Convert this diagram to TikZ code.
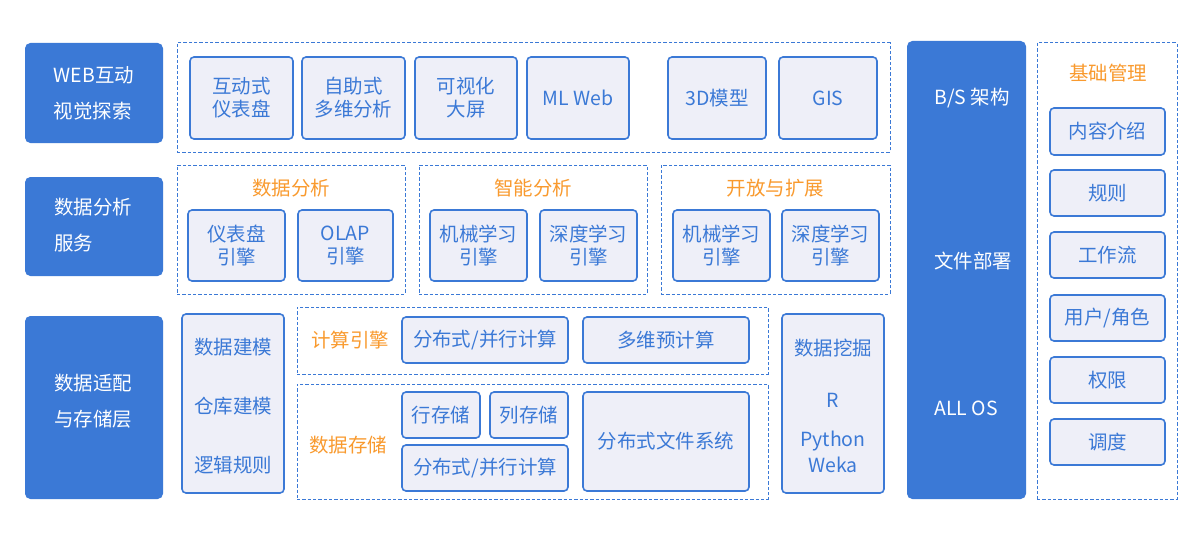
\documentclass[tikz,border=0pt]{standalone}
\usepackage{fontspec}
\setmainfont{Noto Sans CJK SC}
\definecolor{mblue}{HTML}{3B79D6}
\definecolor{mfill}{HTML}{EEEFF8}
\definecolor{morange}{HTML}{F99A2E}
\newcommand\fs{\fontsize{14.6}{17.25}\selectfont}
\newcommand\fsl{\fontsize{14.6}{27}\selectfont}
\newcommand\mybox[7]{\node[#1, minimum width={(#4-#2)*0.75pt}, minimum height={(#5-#3)*0.75pt}] (#6) at ({(#2+#4)/2},{(#3+#5)/2}) {#7};}
\tikzset{
  bluebox/.style={fill=mblue, draw=none, rounded corners=4pt, inner sep=0pt},
  ibox/.style={draw=mblue, fill=mfill, line width=1.2pt, rounded corners=3pt, text=mblue, align=center, font=\fs, inner sep=0pt},
  dbox/.style={draw=mblue, dash pattern=on 2.5pt off 1.5pt, line width=0.75pt, inner sep=0pt},
  ttl/.style={text=morange, font=\fs, inner sep=0pt},
  btxt/.style={text=mblue, font=\fs, inner sep=0pt},
  wtxt/.style={text=white, font=\fsl, align=left, inner sep=0pt},
}
\begin{document}
\begin{tikzpicture}[x=0.75pt, y=-0.75pt]
\useasboundingbox[fill=white] (0,0) rectangle (1200,535);
% left column
\mybox{bluebox}{25}{43}{163}{143}{L1}{}
\mybox{bluebox}{25}{177}{163}{276}{L2}{}
\mybox{bluebox}{25}{316}{163}{499}{L3}{}
\node[wtxt] (L1t) at (94,93) {WEB互动\\视觉探索};
\node[wtxt] (L2t) at (93,225) {数据分析\\服务};
\node[wtxt] (L3t) at (93,401) {数据适配\\与存储层};
% top row
\mybox{dbox}{177}{43}{890}{152}{G1}{}
\mybox{ibox}{190}{57}{293}{139}{a1}{互动式\\仪表盘}
\mybox{ibox}{302}{57}{405}{139}{a2}{自助式\\多维分析}
\mybox{ibox}{415}{57}{517}{139}{a3}{可视化\\大屏}
\mybox{ibox}{527}{57}{629}{139}{a4}{ML Web}
\mybox{ibox}{668}{57}{766}{139}{a5}{3D模型}
\mybox{ibox}{779}{57}{877}{139}{a6}{GIS}
% second row
\mybox{dbox}{177}{165}{405}{294}{G2}{}
\mybox{dbox}{419}{165}{647}{294}{G3}{}
\mybox{dbox}{661}{165}{890}{294}{G4}{}
\node[ttl] (t2) at (291,188) {数据分析};
\node[ttl] (t3) at (533,188) {智能分析};
\node[ttl] (t4) at (775.5,188) {开放与扩展};
\mybox{ibox}{188}{210}{285}{281}{b1}{仪表盘\\引擎}
\mybox{ibox}{298}{210}{393}{281}{b2}{OLAP\\引擎}
\mybox{ibox}{430}{210}{527}{281}{b3}{机械学习\\引擎}
\mybox{ibox}{540}{210}{637}{281}{b4}{深度学习\\引擎}
\mybox{ibox}{673}{210}{770}{281}{b5}{机械学习\\引擎}
\mybox{ibox}{782}{210}{879}{281}{b6}{深度学习\\引擎}
% third row
\mybox{ibox}{182}{314}{284}{493}{c0}{}
\node[btxt] (c0a) at (233,347) {数据建模};
\node[btxt] (c0b) at (233,406) {仓库建模};
\node[btxt] (c0c) at (233,465) {逻辑规则};
\mybox{dbox}{297}{307}{768}{374}{G5}{}
\mybox{dbox}{297}{384}{768}{499}{G6}{}
\node[ttl] (t5) at (350,340) {计算引擎};
\node[ttl] (t6) at (348,445) {数据存储};
\mybox{ibox}{402}{317}{568}{363}{c1}{分布式/并行计算}
\mybox{ibox}{583}{317}{749}{363}{c2}{多维预计算}
\mybox{ibox}{402}{392}{480}{438}{c3}{行存储}
\mybox{ibox}{490}{392}{568}{438}{c4}{列存储}
\mybox{ibox}{402}{445}{568}{491}{c5}{分布式/并行计算}
\mybox{ibox}{583}{392}{749}{491}{c6}{分布式文件系统}
\mybox{ibox}{782}{314}{884}{493}{c7}{}
\node[btxt] (c7a) at (833,348) {数据挖掘};
\node[btxt] (c7b) at (833,400) {R};
\node[btxt] (c7c) at (833,441) {Python};
\node[btxt] (c7d) at (833,465) {Weka};
% right column
\mybox{bluebox}{907}{41}{1026}{499}{R1}{}
\node[wtxt, anchor=west] (r1a) at (934,98) {B/S 架构};
\node[wtxt, anchor=west] (r1b) at (934,261) {文件部署};
\node[wtxt, anchor=west] (r1c) at (934,408) {ALL OS};
\mybox{dbox}{1037}{43}{1177}{499}{G7}{}
\node[ttl] (t7) at (1108,73) {基础管理};
\mybox{ibox}{1050}{108}{1165}{155}{d1}{内容介绍}
\mybox{ibox}{1050}{170}{1165}{216}{d2}{规则}
\mybox{ibox}{1050}{232}{1165}{278}{d3}{工作流}
\mybox{ibox}{1050}{295}{1165}{341}{d4}{用户/角色}
\mybox{ibox}{1050}{357}{1165}{403}{d5}{权限}
\mybox{ibox}{1050}{419}{1165}{465}{d6}{调度}
\end{tikzpicture}
\end{document}
